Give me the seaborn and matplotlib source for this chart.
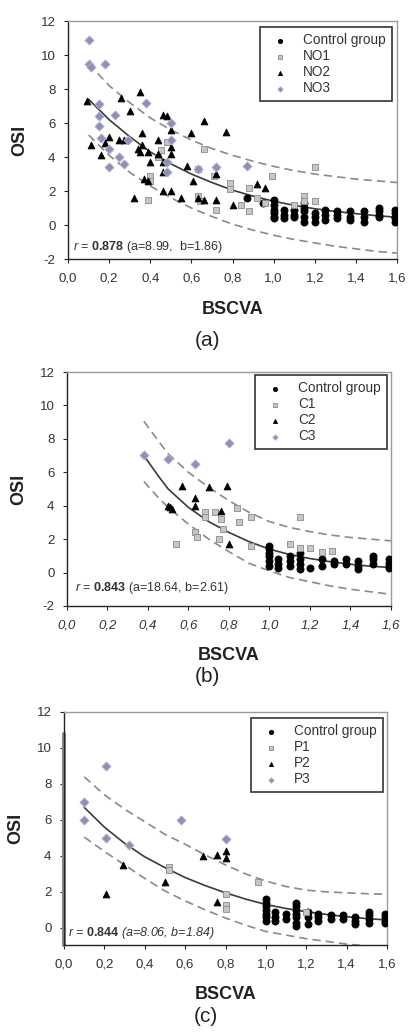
import matplotlib.pyplot as plt
import seaborn as sns

# ---- shared axis data ----
x_ticks = [0.0, 0.2, 0.4, 0.6, 0.8, 1.0, 1.2, 1.4, 1.6]
x_tick_labels = ["0,0", "0,2", "0,4", "0,6", "0,8", "1,0", "1,2", "1,4", "1,6"]
y_ticks_ab = [-2, 0, 2, 4, 6, 8, 10, 12]
y_ticks_c = [0, 2, 4, 6, 8, 10, 12]

# ---- panel (a) ----
ctrl_a_x = [0.87, 0.95, 1.0, 1.0, 1.0, 1.0, 1.0, 1.0, 1.05, 1.05, 1.05, 1.1, 1.1, 1.1,
            1.15, 1.15, 1.15, 1.15, 1.15, 1.2, 1.2, 1.2, 1.25, 1.25, 1.25, 1.31, 1.31, 1.31,
            1.37, 1.37, 1.37, 1.44, 1.44, 1.44, 1.51, 1.51, 1.51, 1.51,
            1.59, 1.59, 1.59, 1.59, 1.59]
ctrl_a_y = [1.6, 1.3, 1.5, 1.2, 0.9, 0.7, 0.5, 0.4, 0.9, 0.6, 0.4, 0.9, 0.6, 0.5,
            1.3, 1.0, 0.8, 0.5, 0.2, 0.7, 0.5, 0.2, 0.9, 0.6, 0.3, 0.8, 0.6, 0.4,
            0.8, 0.5, 0.3, 0.8, 0.5, 0.2, 1.0, 0.8, 0.6, 0.5,
            0.9, 0.7, 0.5, 0.4, 0.2]
no1_x = [0.39, 0.4, 0.4, 0.44, 0.45, 0.48, 0.63, 0.63, 0.64, 0.66, 0.71, 0.72, 0.79,
         0.79, 0.84, 0.88, 0.88, 0.92, 0.96, 0.99, 1.1, 1.15, 1.15, 1.2, 1.2]
no1_y = [1.5, 2.9, 2.6, 4.0, 4.4, 4.9, 3.3, 1.7, 1.4, 4.5, 2.9, 0.9, 2.5,
         2.1, 1.2, 2.2, 0.8, 1.6, 1.3, 2.9, 1.2, 1.7, 1.4, 3.4, 1.4]
no2_x = [0.09, 0.11, 0.16, 0.18, 0.2, 0.25, 0.26, 0.27, 0.3, 0.32, 0.34, 0.35, 0.35,
         0.36, 0.36, 0.37, 0.39, 0.39, 0.4, 0.44, 0.44, 0.46, 0.46, 0.46, 0.46, 0.48,
         0.5, 0.5, 0.5, 0.5, 0.55, 0.58, 0.6, 0.61, 0.63, 0.66, 0.66, 0.72, 0.72, 0.77,
         0.8, 0.92, 0.96]
no2_y = [7.3, 4.7, 4.1, 4.8, 5.2, 5.0, 7.5, 5.0, 6.7, 1.6, 4.5, 7.8, 4.3,
         5.4, 4.7, 2.7, 4.3, 2.6, 3.7, 5.0, 4.2, 6.5, 3.7, 3.1, 2.0, 6.4,
         5.6, 4.6, 4.2, 2.0, 1.6, 3.5, 5.4, 2.6, 1.6, 6.1, 1.5, 1.5, 3.0, 5.5,
         1.2, 2.4, 2.2]
no3_x = [0.1, 0.1, 0.11, 0.18, 0.15, 0.15, 0.15, 0.16, 0.2, 0.2, 0.23, 0.25, 0.27,
         0.29, 0.38, 0.5, 0.5, 0.48, 0.48, 0.63, 0.72, 0.87]
no3_y = [10.9, 9.5, 9.3, 9.5, 7.1, 6.4, 5.8, 5.1, 4.5, 3.4, 6.5, 4.0, 3.6,
         5.0, 7.2, 6.0, 5.0, 3.7, 3.1, 3.3, 3.4, 3.5]
curve_a_x = [0.1, 0.2, 0.3, 0.4, 0.5, 0.6, 0.7, 0.8, 0.9, 1.0, 1.1, 1.2, 1.3, 1.4, 1.5, 1.6]
center_a = [7.4, 6.2, 5.2, 4.3, 3.6, 3.0, 2.5, 2.05, 1.7, 1.4, 1.16, 0.96, 0.8, 0.67, 0.55, 0.46]
upper_a = [9.5, 8.2, 7.2, 6.3, 5.6, 5.0, 4.5, 4.1, 3.75, 3.45, 3.2, 3.0, 2.85, 2.7, 2.6, 2.5]
lower_a = [5.3, 4.1, 3.1, 2.3, 1.6, 1.0, 0.5, 0.05, -0.3, -0.6, -0.85, -1.05, -1.25, -1.4, -1.55, -1.65]

# ---- panel (b) ----
ctrl_b_x = [1.0, 1.0, 1.0, 1.0, 1.0, 1.0, 1.04, 1.04, 1.04, 1.1, 1.1, 1.1,
            1.15, 1.15, 1.15, 1.15, 1.2, 1.26, 1.26, 1.32, 1.32, 1.38, 1.38,
            1.44, 1.44, 1.44, 1.51, 1.51, 1.51, 1.59, 1.59, 1.59, 1.59]
ctrl_b_y = [1.6, 1.4, 1.2, 1.0, 0.7, 0.4, 0.8, 0.5, 0.3, 1.0, 0.7, 0.4,
            1.2, 0.8, 0.5, 0.2, 0.3, 0.8, 0.4, 0.7, 0.5, 0.8, 0.5,
            0.7, 0.4, 0.2, 1.0, 0.8, 0.5, 0.8, 0.6, 0.4, 0.3]
c1_x = [0.54, 0.63, 0.64, 0.68, 0.68, 0.73, 0.75, 0.76, 0.77, 0.84, 0.85, 0.91, 0.91,
        1.1, 1.15, 1.15, 1.2, 1.26, 1.31]
c1_y = [1.7, 2.4, 2.1, 3.6, 3.3, 3.6, 2.0, 3.2, 2.6, 3.85, 3.0, 3.3, 1.6,
        1.7, 3.3, 1.5, 1.5, 1.25, 1.3]
c2_x = [0.5, 0.51, 0.52, 0.57, 0.63, 0.63, 0.7, 0.76, 0.79, 0.8]
c2_y = [4.0, 3.9, 3.8, 5.2, 4.45, 4.0, 5.1, 3.7, 5.2, 1.7]
c3_x = [0.38, 0.5, 0.63, 0.8]
c3_y = [7.05, 6.8, 6.5, 7.75]
curve_b_x = [0.38, 0.45, 0.5, 0.6, 0.7, 0.8, 0.9, 1.0, 1.1, 1.2, 1.3, 1.4, 1.5, 1.6]
center_b = [7.0, 5.8, 5.0, 3.9, 3.05, 2.4, 1.85, 1.4, 1.08, 0.84, 0.65, 0.5, 0.38, 0.3]
upper_b = [9.05, 7.9, 7.1, 6.0, 5.1, 4.3, 3.6, 3.05, 2.7, 2.45, 2.25, 2.1, 2.0, 1.9]
lower_b = [5.45, 4.5, 3.9, 2.9, 2.0, 1.25, 0.55, 0.1, -0.3, -0.55, -0.8, -1.0, -1.15, -1.3]

# ---- panel (c) ----
ctrl_c_x = [1.0, 1.0, 1.0, 1.0, 1.0, 1.0, 1.0, 1.045, 1.045, 1.045, 1.1, 1.1,
            1.15, 1.15, 1.15, 1.15, 1.15, 1.15, 1.15, 1.21, 1.21, 1.21,
            1.26, 1.26, 1.26, 1.32, 1.32, 1.38, 1.38, 1.44, 1.44, 1.44,
            1.51, 1.51, 1.51, 1.51, 1.59, 1.59, 1.59, 1.59]
ctrl_c_y = [1.6, 1.4, 1.2, 1.0, 0.8, 0.6, 0.4, 0.9, 0.6, 0.4, 0.8, 0.5,
            1.4, 1.2, 1.0, 0.8, 0.6, 0.3, 0.1, 0.9, 0.6, 0.2,
            0.8, 0.6, 0.4, 0.7, 0.5, 0.7, 0.5, 0.6, 0.4, 0.2,
            0.9, 0.7, 0.5, 0.3, 0.8, 0.6, 0.4, 0.3]
p1_x = [0.52, 0.52, 0.8, 0.8, 0.8, 0.96, 1.2]
p1_y = [3.4, 3.2, 1.9, 1.25, 1.05, 2.55, 0.9]
p2_x = [0.21, 0.29, 0.5, 0.69, 0.76, 0.8, 0.8, 0.76]
p2_y = [1.9, 3.5, 2.55, 4.0, 4.05, 4.3, 3.9, 1.45]
p3_x = [0.1, 0.1, 0.21, 0.21, 0.32, 0.58, 0.8]
p3_y = [7.0, 6.0, 9.0, 5.0, 4.6, 6.0, 4.95]
curve_c_x = [0.1, 0.2, 0.3, 0.4, 0.5, 0.6, 0.7, 0.8, 0.9, 1.0, 1.1, 1.2, 1.3, 1.4, 1.5, 1.6]
center_c = [6.7, 5.6, 4.7, 3.95, 3.35, 2.8, 2.35, 1.95, 1.6, 1.3, 1.08, 0.9, 0.75, 0.62, 0.52, 0.44]
upper_c = [8.4, 7.4, 6.6, 5.9, 5.2, 4.65, 4.05, 3.5, 3.0, 2.6, 2.3, 2.1, 2.0, 1.95, 1.9, 1.87]
lower_c = [5.05, 4.25, 3.5, 2.75, 2.05, 1.5, 1.0, 0.55, 0.15, -0.2, -0.4, -0.6, -0.75, -0.9, -1.0, -1.1]

sns.set_style("ticks")
plt.rcParams['font.family'] = ['Liberation Sans', 'DejaVu Sans']
plt.rcParams['mathtext.fontset'] = 'custom'
plt.rcParams['mathtext.rm'] = 'Liberation Sans'
plt.rcParams['mathtext.it'] = 'Liberation Sans:italic'
plt.rcParams['mathtext.bf'] = 'Liberation Sans:bold'

MARKERS = {
    'circle': dict(marker='o', color='black', edgecolor='black', s=26),
    'square': dict(marker='s', color='#c6c6c6', edgecolor='#8a8a8a', s=22),
    'triangle': dict(marker='^', color='black', edgecolor='black', s=24),
    'diamond': dict(marker='D', color='#8e8eb8', edgecolor='#b8b8d0', s=22),
}


def draw_panel(ax, groups, curve_x, center, upper, lower, ylim, yticks,
               r_value, r_params, r_pos, legend_anchor, italic_ticks=False, r_style='normal'):
    for ylist, ls, col in [(upper, (0, (5, 3)), '#8a8a8a'),
                           (lower, (0, (5, 3)), '#8a8a8a'),
                           (center, '-', '#3a3a3a')]:
        sns.lineplot(x=curve_x, y=ylist, ax=ax, color=col, linestyle=ls, lw=1.2,
                     estimator=None, sort=True, zorder=2)
    handles = []
    for label, xs, ys, kind in groups:
        sns.scatterplot(x=xs, y=ys, ax=ax, linewidth=0.6, zorder=3, label=label, **MARKERS[kind])
        handles.append(ax.collections[-1])

    ax.set_xlim(0, 1.6)
    ax.set_ylim(*ylim)
    ax.set_xticks(x_ticks)
    ax.set_xticklabels(x_tick_labels, fontsize=9.5, style='italic' if italic_ticks else 'normal',
                       color='#333333')
    ax.set_yticks(yticks)
    ax.set_yticklabels([str(t) for t in yticks], fontsize=9.5, color='#333333')
    ax.tick_params(axis='x', direction='out', length=3, width=0.8, pad=7)
    ax.tick_params(axis='y', direction='out', length=3, width=0.8, pad=6)
    ax.set_xlabel('')
    ax.set_ylabel('')
    for side in ['left', 'bottom']:
        ax.spines[side].set_color('#222222')
        ax.spines[side].set_linewidth(1.0)
    for side in ['top', 'right']:
        ax.spines[side].set_color('#9a9a9a')
        ax.spines[side].set_linewidth(1.0)

    ax.text(r_pos[0], r_pos[1], r"$\it{r}$ = $\bf{" + r_value + "}$ " + r_params,
            transform=ax.transAxes, fontsize=9, ha='left', va='center',
            style=r_style, color='#333333')
    ax.text(0.5, -0.175, 'BSCVA', transform=ax.transAxes, fontsize=13,
            fontweight='bold', ha='center', va='top', color='#222222')
    ax.text(-0.148, 0.5, 'OSI', transform=ax.transAxes, fontsize=13,
            fontweight='bold', ha='center', va='center', rotation=90, color='#222222')

    leg = ax.legend(handles=handles, labels=[g[0] for g in groups], loc='upper right',
                    bbox_to_anchor=legend_anchor, borderaxespad=0, fontsize=9.8,
                    frameon=True, fancybox=False, framealpha=1, edgecolor='#333333',
                    borderpad=0.45, labelspacing=0.15, handletextpad=0.7, markerscale=0.6)
    leg.get_frame().set_linewidth(1.2)
    for t in leg.get_texts():
        t.set_color('#333333')


fig = plt.figure(figsize=(4.11, 10.32), dpi=100)

ax_a = fig.add_axes([0.1655, 0.749, 0.8005, 0.2306])
draw_panel(ax_a,
           [('Control group', ctrl_a_x, ctrl_a_y, 'circle'),
            ('NO1', no1_x, no1_y, 'square'),
            ('NO2', no2_x, no2_y, 'triangle'),
            ('NO3', no3_x, no3_y, 'diamond')],
           curve_a_x, center_a, upper_a, lower_a, (-2, 12), y_ticks_ab,
           '0.878', '(a=8.99,  b=1.86)', (0.015, 0.05), (0.985, 0.975))

ax_b = fig.add_axes([0.163, 0.4128, 0.788, 0.2267])
draw_panel(ax_b,
           [('Control group', ctrl_b_x, ctrl_b_y, 'circle'),
            ('C1', c1_x, c1_y, 'square'),
            ('C2', c2_x, c2_y, 'triangle'),
            ('C3', c3_x, c3_y, 'diamond')],
           curve_b_x, center_b, upper_b, lower_b, (-2, 12), y_ticks_ab,
           '0.843', '(a=18.64, b=2.61)', (0.025, 0.077), (0.988, 0.987), italic_ticks=True)

ax_c = fig.add_axes([0.1557, 0.0843, 0.786, 0.2258])
draw_panel(ax_c,
           [('Control group', ctrl_c_x, ctrl_c_y, 'circle'),
            ('P1', p1_x, p1_y, 'square'),
            ('P2', p2_x, p2_y, 'triangle'),
            ('P3', p3_x, p3_y, 'diamond')],
           curve_c_x, center_c, upper_c, lower_c, (-0.95, 12), y_ticks_c,
           '0.844', '(a=8.06, b=1.84)', (0.012, 0.05), (0.988, 0.974), r_style='italic')
# scanner smear along the left edge of panel (c)
ax_c.axvline(0, ymin=0, ymax=(10.8 + 0.95) / 12.95, color='#8c8c8c', lw=3, clip_on=False, zorder=1)

fig.text(0.504, 1 - 341 / 1032, '(a)', fontsize=15, ha='center', va='center', color='#222222')
fig.text(0.504, 1 - 677 / 1032, '(b)', fontsize=15, ha='center', va='center', color='#222222')
fig.text(0.5, 1 - 1017 / 1032, '(c)', fontsize=15, ha='center', va='center', color='#222222')

fig.savefig('out.png', dpi=100)
plt.close(fig)
